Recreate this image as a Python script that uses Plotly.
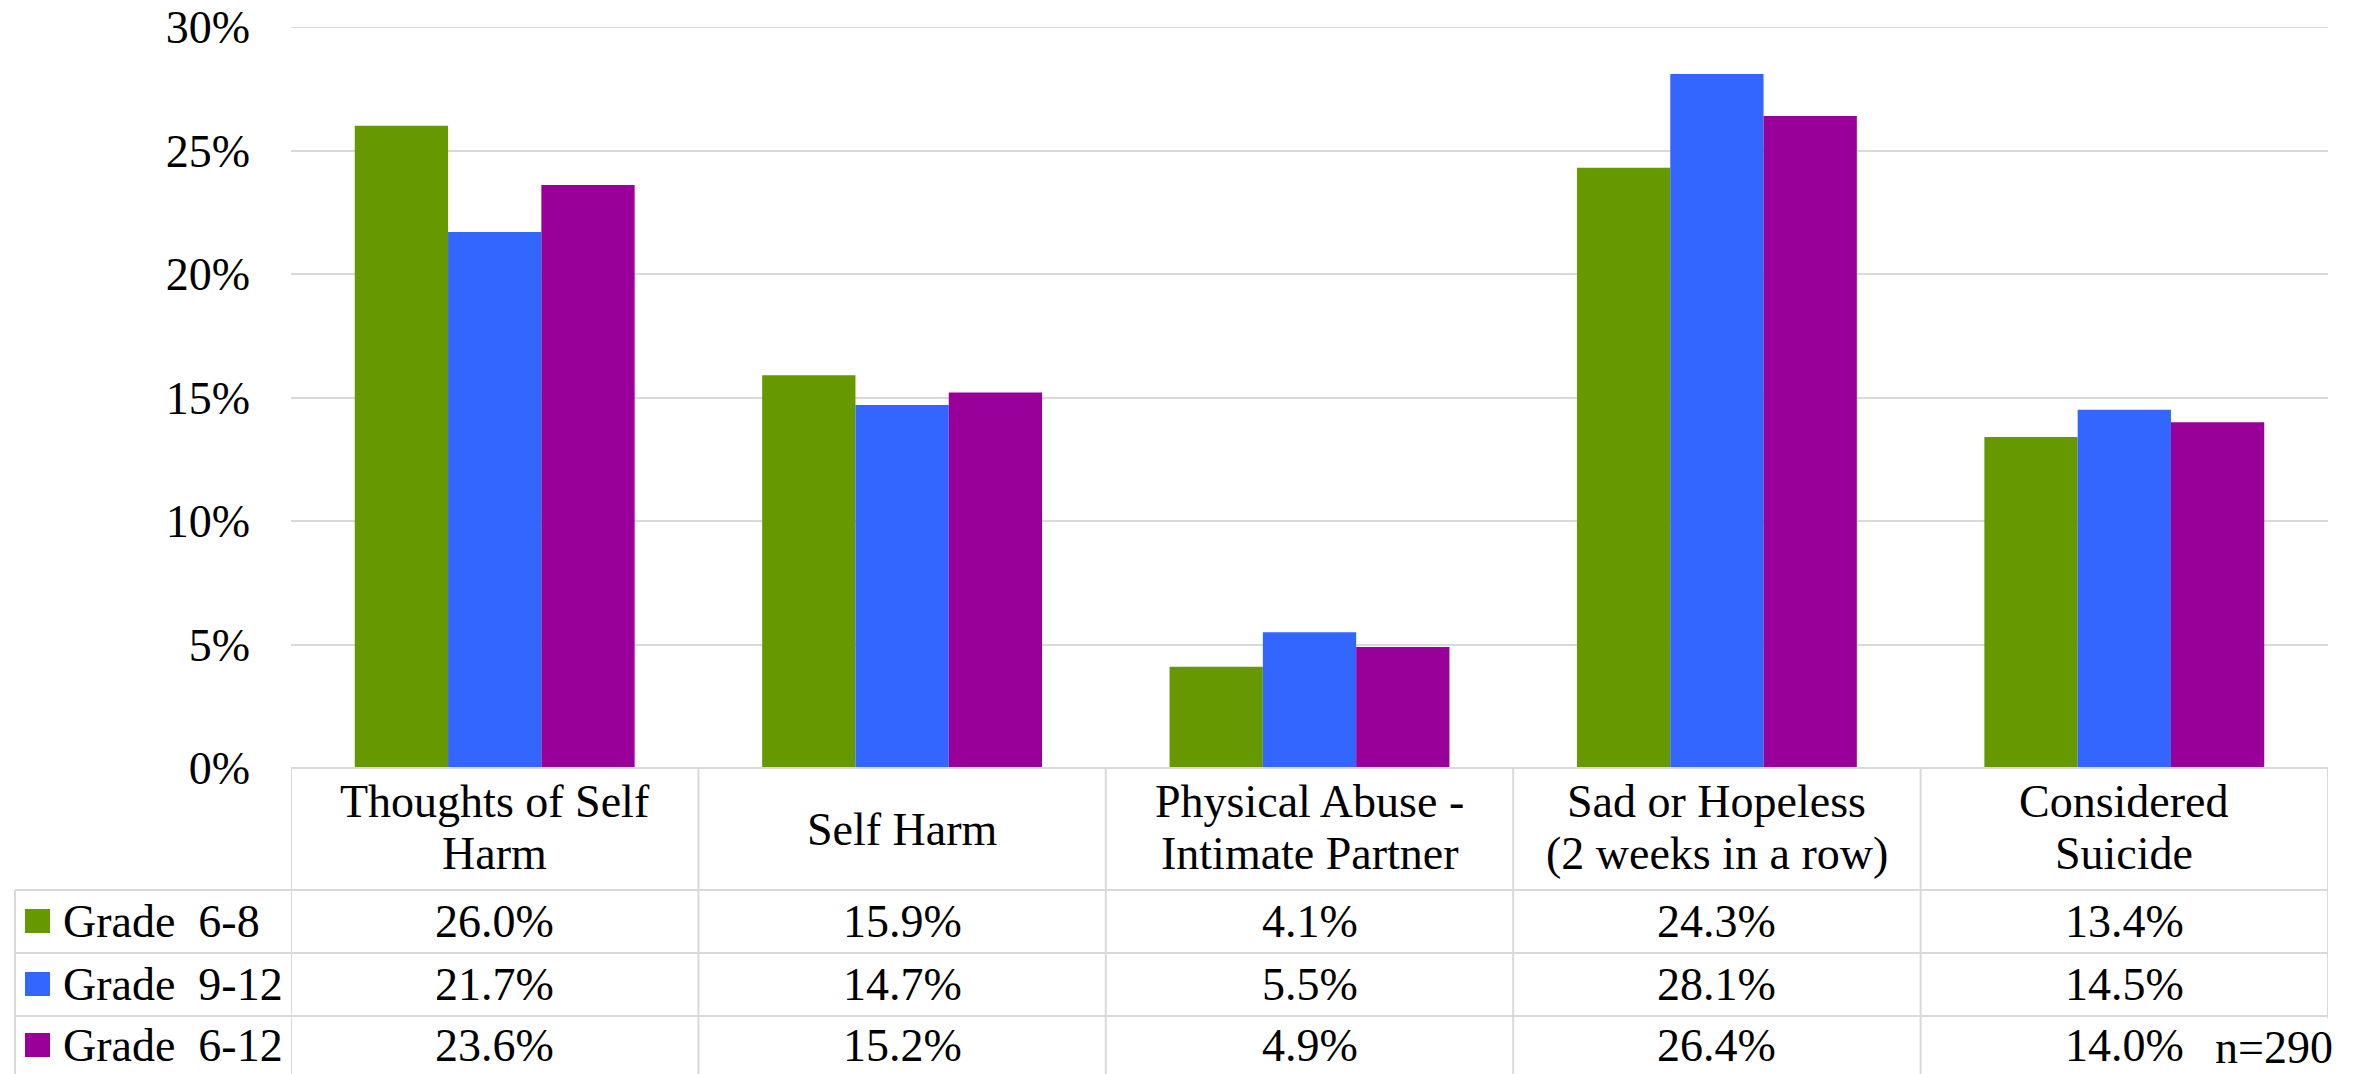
import plotly.graph_objects as go

categories = ["Thoughts of Self<br>Harm", "Self Harm", "Physical Abuse -<br>Intimate Partner",
              "Sad or Hopeless<br>(2 weeks in a row)", "Considered<br>Suicide"]
series_names = ["Grade\u00a0 6-8", "Grade\u00a0 9-12", "Grade\u00a0 6-12"]
grade_6_8 = [26.0, 15.9, 4.1, 24.3, 13.4]
grade_9_12 = [21.7, 14.7, 5.5, 28.1, 14.5]
grade_6_12 = [23.6, 15.2, 4.9, 26.4, 14.0]
colors = ["#669900", "#3366FF", "#990099"]
y_ticks = [0, 5, 10, 15, 20, 25, 30]
y_tick_labels = ["0%", "5%", "10%", "15%", "20%", "25%", "30%"]
note = "n=290"

W, H = 2361, 1074
OFF = 8  # default page body margin
FW, FH = W - OFF, H - OFF
FONT = "Liberation Serif, Times New Roman, DejaVu Serif, serif"
FS = 46
GRID = "#d9d9d9"

def px(x):
    return (x - OFF) / FW

def py(y):
    return (H - y) / FH

series = [grade_6_8, grade_9_12, grade_6_12]
xs = list(range(len(categories)))

fig = go.Figure()
for name, vals, col in zip(series_names, series, colors):
    fig.add_trace(go.Bar(x=xs, y=vals, name=name, marker=dict(color=col, line=dict(width=0)),
                         showlegend=False))

plot_left, plot_right = 291, 2328
base_y, top_y = 768, 27
row_lines = [890, 953, 1016]
row_centers = [921, 984, 1045]

fig.update_layout(
    template="none",
    width=FW, height=FH,
    margin=dict(l=0, r=0, t=0, b=0, autoexpand=False),
    paper_bgcolor="white", plot_bgcolor="white",
    barmode="group", bargap=0.313, bargroupgap=0,
    font=dict(family=FONT, size=FS, color="black"),
    xaxis=dict(domain=[px(plot_left), px(plot_right)], range=[-0.5, len(categories) - 0.5],
               showticklabels=False, showgrid=False, zeroline=False, ticks="", showline=False,
               automargin=False),
    yaxis=dict(domain=[py(base_y), py(top_y)], range=[0, 30], tickvals=y_ticks,
               ticktext=y_tick_labels, showgrid=True, gridcolor=GRID, gridwidth=2,
               zeroline=False, ticks="", ticklabelstandoff=40, showline=False,
               automargin=False, ticklabeloverflow="allow",
               tickfont=dict(family=FONT, size=FS, color="black")),
)

shapes = []
line = dict(color=GRID, width=2)
# top gridline (30%) drawn explicitly in case the edge gridline is dropped
shapes.append(dict(type="line", xref="paper", yref="y", x0=px(plot_left), x1=px(plot_right),
                   y0=y_ticks[-1], y1=y_ticks[-1], line=line, layer="below"))
# header top border
shapes.append(dict(type="line", xref="paper", yref="paper", x0=px(plot_left), x1=px(plot_right),
                   y0=py(base_y), y1=py(base_y), line=line, layer="above"))
# row lines
for ry in row_lines:
    shapes.append(dict(type="line", xref="paper", yref="paper", x0=px(15), x1=px(plot_right),
                       y0=py(ry), y1=py(ry), line=line))
# vertical column borders
for i in range(len(categories) + 1):
    shapes.append(dict(type="line", xref="x", yref="paper", x0=i - 0.5, x1=i - 0.5,
                       y0=py(base_y), y1=py(H + 5), line=line))
# legend column left border
shapes.append(dict(type="line", xref="paper", yref="paper", x0=px(15), x1=px(15),
                   y0=py(row_lines[0]), y1=py(H + 5), line=line))
# legend swatches
for col, cy in zip(colors, row_centers):
    shapes.append(dict(type="rect", xref="paper", yref="paper", x0=px(25), x1=px(50),
                       y0=py(cy - 12), y1=py(cy + 12), fillcolor=col, line=dict(width=0)))
fig.update_layout(shapes=shapes)

ann = []
# category headers
for i, cat in enumerate(categories):
    lines = cat.split("<br>")
    if len(lines) == 1:
        ys = [829]
    else:
        ys = [801, 853]
    for t, yy in zip(lines, ys):
        ann.append(dict(x=i, y=py(yy), xref="x", yref="paper", text=t, showarrow=False,
                        xanchor="center", yanchor="middle", font=dict(size=FS)))
# series labels and values
for name, vals, cy in zip(series_names, series, row_centers):
    ann.append(dict(x=px(61), y=py(cy), xref="paper", yref="paper", text=name, showarrow=False,
                    xanchor="left", yanchor="middle", font=dict(size=FS)))
    for i, v in enumerate(vals):
        ann.append(dict(x=i, y=py(cy), xref="x", yref="paper", text=f"{v:.1f}%", showarrow=False,
                        xanchor="center", yanchor="middle", font=dict(size=FS)))
# n note
ann.append(dict(x=px(2334), y=py(1018), xref="paper", yref="paper", text=note, showarrow=False,
                xanchor="right", yanchor="top", align="right", width=140, height=56,
                bgcolor="white", borderpad=0, font=dict(size=FS)))
fig.update_layout(annotations=ann)

fig.write_html("out.html")
